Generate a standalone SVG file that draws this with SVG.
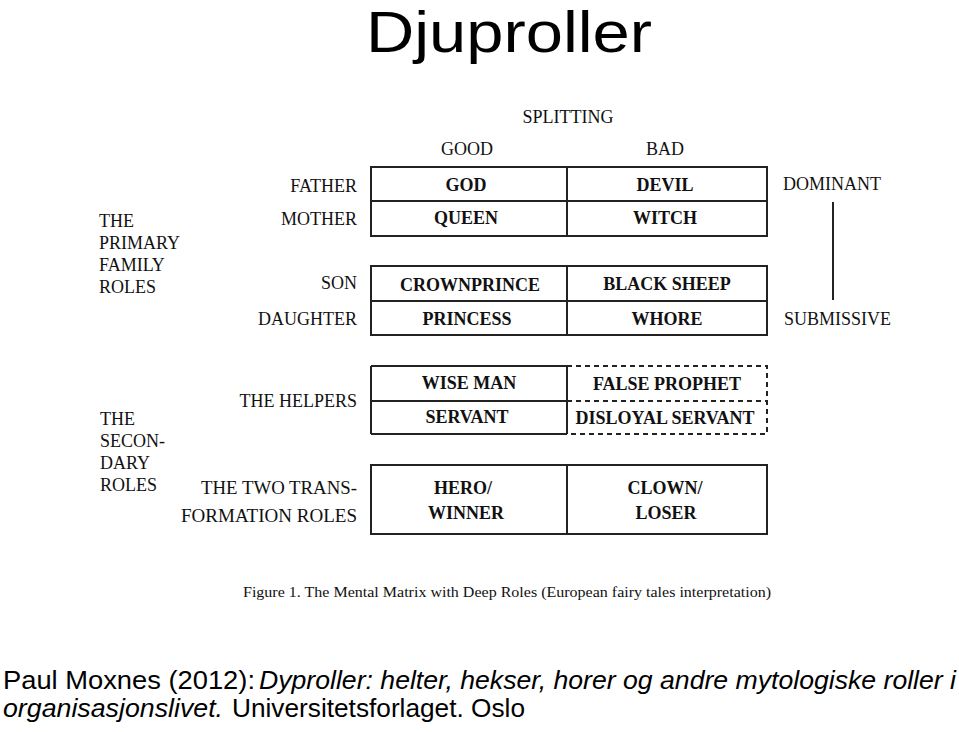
<svg xmlns="http://www.w3.org/2000/svg" width="959" height="732" viewBox="0 0 959 732">
<style>
.title{font-family:"Liberation Sans","Open Sans",sans-serif;font-size:57px;fill:#000}
.cite{font-family:"Liberation Sans","Open Sans",sans-serif;font-size:25px;fill:#000}
.it{font-style:italic}
.lbl{font-family:"Liberation Serif","Times New Roman",serif;font-size:18px;fill:#111}
.cell{font-family:"Liberation Serif","Times New Roman",serif;font-size:18px;font-weight:bold;fill:#111;text-anchor:middle}
.r{text-anchor:end}
.m{text-anchor:middle}
.box{fill:#fff;stroke:#222;stroke-width:2}
.ln{stroke:#222;stroke-width:2;fill:none}
.dash{stroke:#222;stroke-width:2;fill:none;stroke-dasharray:5 4}
.cap{font-family:"Liberation Serif","Times New Roman",serif;font-size:15px;fill:#111}
</style>
<rect width="959" height="732" fill="#fff"/>
<g id="title"><text class="title" x="366" y="52" textLength="286" lengthAdjust="spacingAndGlyphs">Djuproller</text></g>

<g id="headers">
<text class="lbl m" x="568" y="123">SPLITTING</text>
<text class="lbl m" x="467" y="155">GOOD</text>
<text class="lbl m" x="665" y="155">BAD</text>
</g>

<g id="primary-label">
<text class="lbl" x="99" y="227">THE</text>
<text class="lbl" x="99" y="249">PRIMARY</text>
<text class="lbl" x="99" y="271">FAMILY</text>
<text class="lbl" x="99" y="293">ROLES</text>
</g>
<g id="row-labels-primary">
<text class="lbl r" x="357" y="192">FATHER</text>
<text class="lbl r" x="357" y="225">MOTHER</text>
<text class="lbl r" x="357" y="289">SON</text>
<text class="lbl r" x="357" y="325">DAUGHTER</text>
</g>

<g id="box-parents">
<rect class="box" x="371" y="167" width="396" height="69"/>
<line class="ln" x1="567" y1="167" x2="567" y2="236"/>
<line class="ln" x1="371" y1="201" x2="767" y2="201"/>
<text class="cell" x="466" y="191">GOD</text>
<text class="cell" x="665" y="191">DEVIL</text>
<text class="cell" x="466" y="224">QUEEN</text>
<text class="cell" x="665" y="224">WITCH</text>
</g>

<g id="box-children">
<rect class="box" x="371" y="266" width="396" height="69"/>
<line class="ln" x1="567" y1="266" x2="567" y2="335"/>
<line class="ln" x1="371" y1="301" x2="767" y2="301"/>
<text class="cell" x="470" y="291">CROWNPRINCE</text>
<text class="cell" x="667" y="290">BLACK SHEEP</text>
<text class="cell" x="467" y="325">PRINCESS</text>
<text class="cell" x="667" y="325">WHORE</text>
</g>

<g id="dominance">
<text class="lbl" x="783" y="190">DOMINANT</text>
<line class="ln" x1="833" y1="202" x2="833" y2="300"/>
<text class="lbl" x="784" y="325">SUBMISSIVE</text>
</g>

<g id="secondary-label">
<text class="lbl" x="100" y="425">THE</text>
<text class="lbl" x="100" y="447">SECON-</text>
<text class="lbl" x="100" y="469">DARY</text>
<text class="lbl" x="100" y="491">ROLES</text>
</g>
<g id="row-labels-secondary">
<text class="lbl r" x="357" y="407">THE HELPERS</text>
<text class="lbl" x="201" y="494" textLength="156" lengthAdjust="spacingAndGlyphs">THE TWO TRANS-</text>
<text class="lbl" x="181" y="522" textLength="176" lengthAdjust="spacingAndGlyphs">FORMATION ROLES</text>
</g>

<g id="box-helpers">
<line class="ln" x1="567" y1="366" x2="371" y2="366"/>
<line class="ln" x1="371" y1="366" x2="371" y2="434"/>
<line class="ln" x1="371" y1="434" x2="567" y2="434"/>
<line class="ln" x1="371" y1="401" x2="567" y2="401"/>
<line class="ln" x1="567" y1="366" x2="567" y2="434"/>
<path class="dash" d="M567,366 H767 V434 H567"/>
<line class="dash" x1="567" y1="401" x2="767" y2="401"/>
<text class="cell" x="469" y="389">WISE MAN</text>
<text class="cell" x="667" y="390">FALSE PROPHET</text>
<text class="cell" x="467" y="423">SERVANT</text>
<text class="cell" x="665" y="424" font-size="17">DISLOYAL SERVANT</text>
</g>

<g id="box-transformation">
<rect class="box" x="371" y="465" width="396" height="69"/>
<line class="ln" x1="567" y1="465" x2="567" y2="534"/>
<text class="cell" x="463" y="494">HERO/</text>
<text class="cell" x="466" y="519">WINNER</text>
<text class="cell" x="665" y="494">CLOWN/</text>
<text class="cell" x="666" y="519">LOSER</text>
</g>

<g id="caption"><text class="cap" x="243" y="597" textLength="528" lengthAdjust="spacingAndGlyphs">Figure 1. The Mental Matrix with Deep Roles (European fairy tales interpretation)</text></g>

<g id="citation">
<text class="cite" x="3" y="689" textLength="252" lengthAdjust="spacingAndGlyphs">Paul Moxnes  (2012):</text>
<text class="cite it" x="259" y="689" textLength="697" lengthAdjust="spacingAndGlyphs">Dyproller: helter, hekser, horer og andre mytologiske roller i</text>
<text class="cite it" x="3" y="717" textLength="220" lengthAdjust="spacingAndGlyphs">organisasjonslivet.</text>
<text class="cite" x="232" y="717" textLength="293" lengthAdjust="spacingAndGlyphs">Universitetsforlaget. Oslo</text>
</g>
</svg>
